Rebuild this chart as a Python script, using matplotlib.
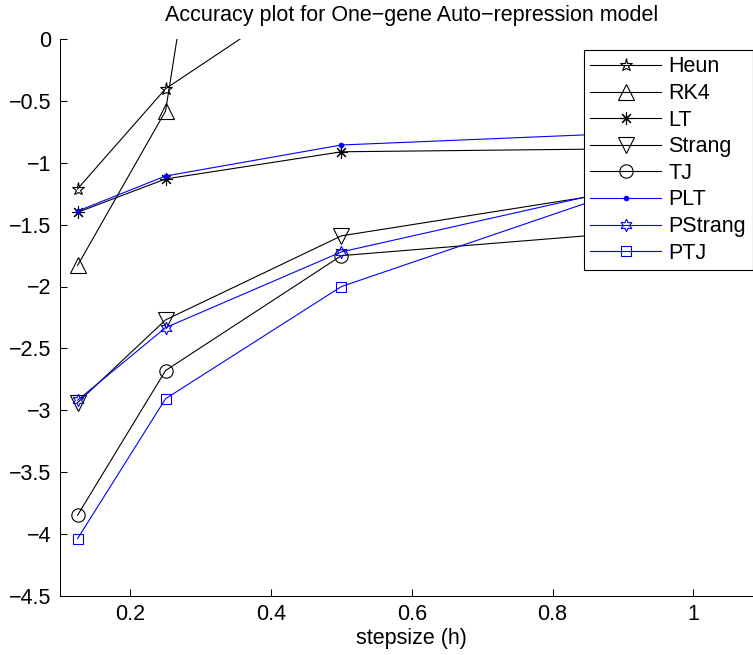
import matplotlib
matplotlib.use("Agg")
import matplotlib.pyplot as plt
from matplotlib.ticker import FixedLocator, FixedFormatter

plt.rcParams['font.family'] = ['Liberation Sans', 'DejaVu Sans']

# ---- data ----
h = [0.125, 0.25, 0.5, 1.0]
heun = [-1.21, -0.40, 0.55, 1.90]
rk4 = [-1.83, -0.58, 8.40, 10.5]
lt = [-1.40, -1.13, -0.91, -0.88]
strang = [-2.94, -2.27, -1.59, -1.14]
tj = [-3.85, -2.68, -1.75, -1.52]
plt_ = [-1.39, -1.106, -0.855, -0.737]
pstrang = [-2.92, -2.333, -1.72, -1.08]
ptj = [-4.04, -2.908, -2.00, -1.03]

xticks = [0.2, 0.4, 0.6, 0.8, 1.0]
xticklabels = ['0.2', '0.4', '0.6', '0.8', '1']
yticks = [0, -0.5, -1, -1.5, -2, -2.5, -3, -3.5, -4, -4.5]
yticklabels = ['0', '\u22120.5', '\u22121', '\u22121.5', '\u22122', '\u22122.5',
               '\u22123', '\u22123.5', '\u22124', '\u22124.5']

title = 'Accuracy plot for One\u2212gene Auto\u2212repression model'
xlabel = 'stepsize (h)'

FS = 15.5
W, H = 753, 655
fig = plt.figure(figsize=(W / 100, H / 100), dpi=100)
ax_l, ax_r = 60, 763.7
ax_t, ax_b = 39.3, 595.5
ax = fig.add_axes([ax_l / W, 1 - ax_b / H, (ax_r - ax_l) / W, (ax_b - ax_t) / H])

lw = 0.8
mew = 0.8
series = [
    ('Heun', heun, 'k', dict(marker='*', ms=9.5)),
    ('RK4', rk4, 'k', dict(marker='^', ms=11)),
    ('LT', lt, 'k', dict(marker=(8, 2, 0), ms=9)),
    ('Strang', strang, 'k', dict(marker='v', ms=11)),
    ('TJ', tj, 'k', dict(marker='o', ms=9.6)),
    ('PLT', plt_, 'b', dict(marker='o', ms=3.2, markerfacecolor='b')),
    ('PStrang', pstrang, 'b', dict(marker=(6, 1, 0), ms=9)),
    ('PTJ', ptj, 'b', dict(marker='s', ms=7.7)),
]
for name, ys, c, mk in series:
    kw = dict(markerfacecolor='none')
    kw.update(mk)
    ax.plot(h, ys, color=c, lw=lw, mec=c, mew=mew, label=name,
            clip_on=True, **kw)

ax.set_xlim(0.1, 1.1)
ax.set_ylim(-4.5, 0)
ax.xaxis.set_major_locator(FixedLocator(xticks))
ax.xaxis.set_major_formatter(FixedFormatter(xticklabels))
ax.yaxis.set_major_locator(FixedLocator(yticks))
ax.yaxis.set_major_formatter(FixedFormatter(yticklabels))
ax.tick_params(direction='in', length=5, width=0.75, labelsize=FS, pad=6,
               top=False, right=False)
for s in ['top', 'right']:
    ax.spines[s].set_visible(False)
for s in ['left', 'bottom']:
    ax.spines[s].set_linewidth(0.75)

ax.set_title(title, fontsize=FS, pad=13)
ax.set_xlabel(xlabel, fontsize=FS, labelpad=2)

leg = ax.legend(loc='upper right', bbox_to_anchor=(752.5 / W, 1 - 50 / H),
                bbox_transform=fig.transFigure, borderaxespad=0,
                fontsize=FS, frameon=True, fancybox=False, framealpha=1,
                edgecolor='k', borderpad=0.3, labelspacing=0.26,
                handlelength=3.3, handletextpad=0.34)
leg.get_frame().set_linewidth(0.8)

fig.savefig('out.png', dpi=100)
